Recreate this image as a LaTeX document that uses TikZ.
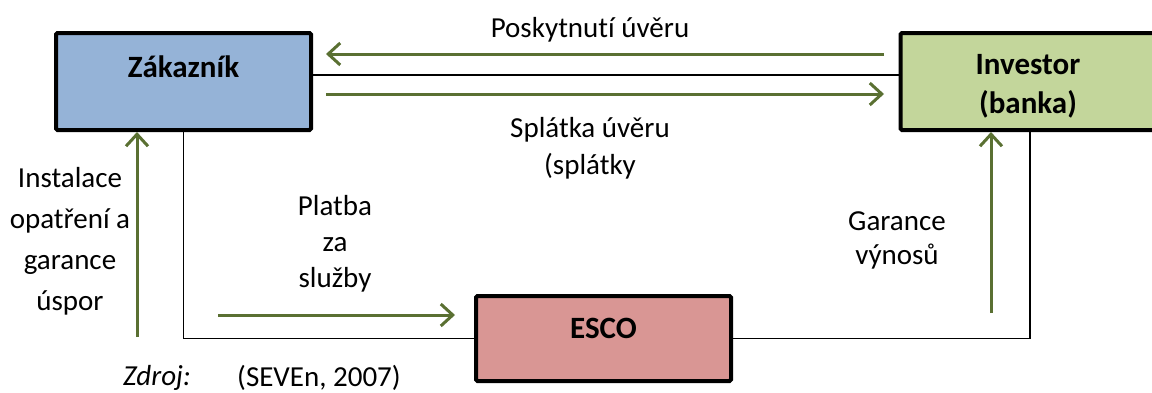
\documentclass[tikz,border=0pt]{standalone}
\usepackage{fontspec}
\setmainfont[Ligatures={NoCommon}]{Carlito}
\usetikzlibrary{arrows.meta}
\definecolor{zakfill}{HTML}{95B3D7}
\definecolor{invfill}{HTML}{C3D69B}
\definecolor{escofill}{HTML}{D99694}
\definecolor{arrgreen}{HTML}{5A7032}
\tikzset{
  box/.style={draw=black, line width=4pt, rounded corners=1.5pt, minimum width=255pt, inner sep=0pt},
  boxlabel/.style={font=\fontsize{31}{39}\selectfont\bfseries, align=center, inner sep=0pt},
  lbl/.style={font=\fontsize{29}{38}\selectfont, align=center, inner sep=0pt},
  conn/.style={draw=black, line width=1.6pt},
  flow/.style={draw=arrgreen, line width=3pt, -{Straight Barb[length=12pt,width=22pt,line width=3pt]}},
}
\begin{document}
\begin{tikzpicture}[x=1pt,y=-1pt]
\useasboundingbox (0,0) rectangle (1152,392);
\begin{scope}
\clip (0,0) rectangle (1152,392);
\node[box, fill=zakfill, minimum height=97pt] (zak) at (183.5,81.5) {};
\node[box, fill=invfill, minimum height=97pt] (inv) at (1028,81.5) {};
\node[box, fill=escofill, minimum height=85pt] (esco) at (603.5,338.5) {};
\end{scope}
\node[boxlabel] (zakl) at (183.5,67) {Zákazník};
\node[boxlabel] (invl) at (1028,86) {Investor\\(banka)};
\node[boxlabel] (escol) at (603.5,328) {ESCO};

% black connectors
\coordinate (mid) at (600,75);
\draw[conn] (zak.east |- mid) -- (inv.west |- mid);
\draw[conn] (zak.south) |- (esco.west);
\draw[conn] (esco.east) -| ([xshift=2pt]inv.south);

% green flows
\coordinate (f1s) at (884,54);
\coordinate (f1e) at (326,54);
\coordinate (f2s) at (326,94);
\coordinate (f2e) at (884,94);
\coordinate (f3s) at (218,315);
\coordinate (f3e) at (455,315);
\coordinate (f4s) at (137,337);
\coordinate (f5s) at (991,313);
\draw[flow] (f1s) -- (f1e);
\draw[flow] (f2s) -- (f2e);
\draw[flow] (f3s) -- (f3e);
\draw[flow] (f4s) -- (f4s |- zak.south);
\draw[flow] (f5s) -- (f5s |- inv.south);

% labels
\node[lbl] (t1) at (590,30) {Poskytnutí úvěru};
\node[lbl, font=\fontsize{29}{37}\selectfont] (t2) at (590,148) {Splátka úvěru\\(splátky};
\node[lbl, font=\fontsize{29}{41}\selectfont] (t3) at (70,241) {Instalace\\opatření a\\garance\\úspor};
\node[lbl, font=\fontsize{29}{36}\selectfont] (t4) at (335,244) {Platba\\za\\služby};
\node[lbl, font=\fontsize{29}{34}\selectfont] (t5) at (897,240) {Garance\\výnosů};
\node[lbl, font=\fontsize{29}{38}\selectfont\itshape] (t6) at (157,378) {Zdroj:};
\node[lbl] (t7) at (319,378) {(SEVEn, 2007)};
\end{tikzpicture}
\end{document}
